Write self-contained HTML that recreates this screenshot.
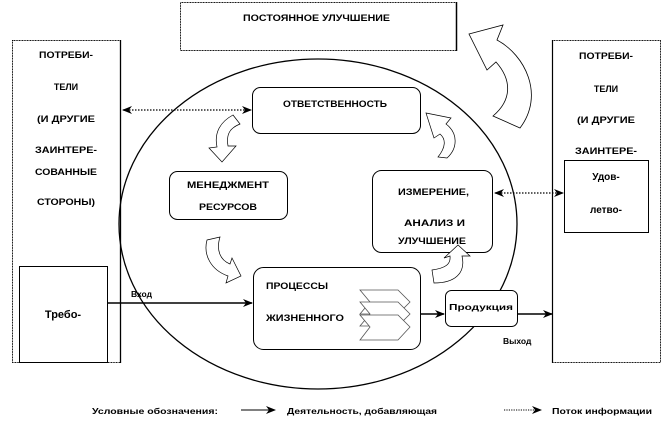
<!DOCTYPE html>
<html><head><meta charset="utf-8"><style>
html,body{margin:0;padding:0;background:#fff}
svg{display:block}
text{font-family:"Liberation Sans",sans-serif;font-weight:bold;font-size:9px;fill:#000}
</style></head><body>
<svg width="663" height="425" viewBox="0 0 663 425" xmlns="http://www.w3.org/2000/svg">
<defs>
<marker id="ah" markerWidth="10" markerHeight="8" refX="9" refY="4" orient="auto" markerUnits="userSpaceOnUse">
<path d="M0,0 L10,4 L0,8 L3,4 Z" fill="#000"/></marker>
<marker id="ahs" markerWidth="10" markerHeight="8" refX="1" refY="4" orient="auto" markerUnits="userSpaceOnUse">
<path d="M10,0 L0,4 L10,8 L7,4 Z" fill="#000"/></marker>
</defs>
<rect x="180.5" y="2.5" width="276" height="48" fill="#fff" stroke="#000" stroke-width="1" stroke-dasharray="1,0.6"/>
<line x1="456.5" y1="2" x2="456.5" y2="51" stroke="#000" stroke-width="1.5"/>
<text x="243" y="21" textLength="147" lengthAdjust="spacingAndGlyphs">ПОСТОЯННОЕ УЛУЧШЕНИЕ</text>
<rect x="12.5" y="40.5" width="108" height="322" fill="#fff" stroke="#000" stroke-dasharray="1,0.6"/>
<line x1="120.5" y1="40" x2="120.5" y2="363" stroke="#000" stroke-width="1.3"/>
<g text-anchor="middle">
<text x="66" y="58" textLength="54" lengthAdjust="spacingAndGlyphs">ПОТРЕБИ-</text>
<text x="66" y="90">ТЕЛИ</text>
<text x="66" y="122" textLength="58" lengthAdjust="spacingAndGlyphs">(И ДРУГИЕ</text>
<text x="66" y="153" textLength="62" lengthAdjust="spacingAndGlyphs">ЗАИНТЕРЕ-</text>
<text x="66" y="175" textLength="62" lengthAdjust="spacingAndGlyphs">СОВАННЫЕ</text>
<text x="66" y="205" textLength="58" lengthAdjust="spacingAndGlyphs">СТОРОНЫ)</text>
</g>
<rect x="19.5" y="266.5" width="88" height="96" fill="#fff" stroke="#000"/>
<text x="63" y="318" text-anchor="middle" style="font-size:11px">Требо-</text>
<rect x="552.5" y="40.5" width="108" height="322" fill="#fff" stroke="#000" stroke-dasharray="1,0.6"/>
<line x1="552.5" y1="40" x2="552.5" y2="363" stroke="#000" stroke-width="1.2"/>
<g text-anchor="middle">
<text x="606" y="59" textLength="54" lengthAdjust="spacingAndGlyphs">ПОТРЕБИ-</text>
<text x="606" y="92">ТЕЛИ</text>
<text x="606" y="123" textLength="58" lengthAdjust="spacingAndGlyphs">(И ДРУГИЕ</text>
<text x="606" y="154" textLength="62" lengthAdjust="spacingAndGlyphs">ЗАИНТЕРЕ-</text>
</g>
<rect x="564.5" y="160.5" width="84" height="72" fill="#fff" stroke="#000"/>
<text x="606" y="180" text-anchor="middle" style="font-size:10px">Удов-</text>
<text x="606" y="213" text-anchor="middle" style="font-size:10px">летво-</text>
<ellipse cx="318" cy="224" rx="199" ry="165" fill="none" stroke="#000" stroke-width="1.3"/>
<path d="M493,116 C512,100 512,80 496,62 L487,70 L469,34 L503,25 L497,40 C525,55 545,95 520,128 Z" fill="#fff" stroke="#000" stroke-width="0.8"/>
<rect x="252.5" y="87.5" width="168" height="46" rx="8" fill="#fff" stroke="#000"/>
<text x="283" y="107" textLength="104" lengthAdjust="spacingAndGlyphs">ОТВЕТСТВЕННОСТЬ</text>
<rect x="169.5" y="171.5" width="118" height="48" rx="8" fill="#fff" stroke="#000"/>
<text x="228" y="188" text-anchor="middle" textLength="82" lengthAdjust="spacingAndGlyphs">МЕНЕДЖМЕНТ</text>
<text x="228" y="210" text-anchor="middle" textLength="58" lengthAdjust="spacingAndGlyphs">РЕСУРСОВ</text>
<rect x="372.5" y="170.5" width="120" height="82" rx="9" fill="#fff" stroke="#000"/>
<text x="398" y="195" textLength="71" lengthAdjust="spacingAndGlyphs">ИЗМЕРЕНИЕ,</text>
<text x="404" y="226" textLength="61" lengthAdjust="spacingAndGlyphs">АНАЛИЗ  И</text>
<text x="398" y="244" textLength="68" lengthAdjust="spacingAndGlyphs">УЛУЧШЕНИЕ</text>
<rect x="253.5" y="267.5" width="167" height="82" rx="10" fill="#fff" stroke="#000"/>
<text x="266" y="289" textLength="62" lengthAdjust="spacingAndGlyphs">ПРОЦЕССЫ</text>
<text x="266" y="321" textLength="78" lengthAdjust="spacingAndGlyphs">ЖИЗНЕННОГО</text>
<g fill="#fff" stroke="#555" stroke-width="0.8">
<path d="M360,290 L398,290 L410,302 L398,314 L360,314 L370,302 Z"/>
<path d="M360,302 L398,302 L410,314 L398,326 L360,326 L370,314 Z"/>
<path d="M360,315 L398,315 L410,327 L398,340 L360,340 L370,327 Z"/>
</g>
<rect x="445.5" y="290.5" width="72" height="36" rx="6" fill="#fff" stroke="#000"/>
<text x="481" y="310" text-anchor="middle" style="font-size:8px" textLength="64" lengthAdjust="spacingAndGlyphs">Продукция</text>
<!-- small curved arrows -->
<path d="M233,115 L240,124 C230,128 226,134 228,146 L236,146 L222,162 L209,148 L217,147 C214,133 220,122 233,115 Z" fill="#fff" stroke="#000" stroke-width="0.7"/>
<path d="M438,157 C446,147 446,139 440,134 L434,138 L426,113 L451,118 L446,124 C458,133 458,148 447,158 Z" fill="#fff" stroke="#000" stroke-width="0.7"/>
<path d="M207,240 L220,237 C216,250 220,260 230,264 L232,258 L241,276 L226,283 L228,276 C211,270 203,255 207,240 Z" fill="#fff" stroke="#000" stroke-width="0.7"/>
<path d="M432,270 C446,268 451,264 450,256 L444,258 L458,245 L470,256 L462,256 C466,273 455,283 434,283 Z" fill="#fff" stroke="#000" stroke-width="0.7"/>
<line x1="107" y1="303" x2="252" y2="303" stroke="#000" stroke-width="1.5" marker-end="url(#ah)"/>
<text x="131" y="297" style="font-size:8.5px">Вход</text>
<line x1="421" y1="314" x2="444" y2="314" stroke="#000" stroke-width="1.5" marker-end="url(#ah)"/>
<line x1="518" y1="314" x2="552" y2="314" stroke="#000" stroke-width="1.5" marker-end="url(#ah)"/>
<text x="503" y="344" style="font-size:8.5px">Выход</text>
<line x1="123" y1="110" x2="251" y2="110" stroke="#000" stroke-width="1.2" stroke-dasharray="1.5,1.5" marker-start="url(#ahs)" marker-end="url(#ah)"/>
<line x1="495" y1="193" x2="563" y2="193" stroke="#000" stroke-width="1.2" stroke-dasharray="1.5,1.5" marker-start="url(#ahs)" marker-end="url(#ah)"/>
<text x="92" y="414" style="font-size:8.5px" textLength="126" lengthAdjust="spacingAndGlyphs">Условные обозначения:</text>
<line x1="241" y1="410" x2="275" y2="410" stroke="#000" stroke-width="1" marker-end="url(#ah)"/>
<text x="287" y="414" style="font-size:8.5px" textLength="150" lengthAdjust="spacingAndGlyphs">Деятельность, добавляющая</text>
<line x1="504" y1="410" x2="541" y2="410" stroke="#000" stroke-width="1" stroke-dasharray="1.2,1.2" marker-end="url(#ah)"/>
<text x="552" y="414" style="font-size:8.5px" textLength="100" lengthAdjust="spacingAndGlyphs">Поток информации</text>
</svg>
</body></html>
